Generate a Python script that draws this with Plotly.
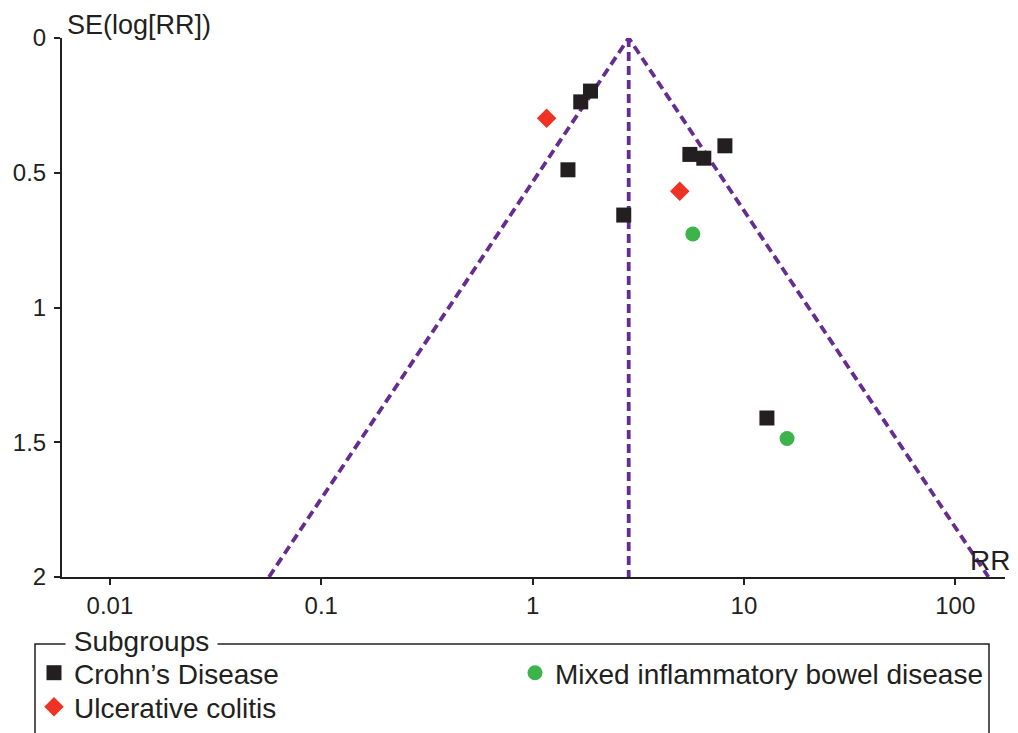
import numpy as np
import plotly.graph_objects as go

# ---- data ----
crohn_rr = [1.69, 1.88, 1.47, 2.70, 5.55, 6.46, 8.13, 12.85]
crohn_se = [0.237, 0.197, 0.489, 0.657, 0.432, 0.446, 0.400, 1.41]
uc_rr = [1.165, 4.97]
uc_se = [0.298, 0.569]
mixed_rr = [5.73, 16.0]
mixed_se = [0.727, 1.486]
pooled_rr = 2.85
se_max = 2.0
x_tickvals = [0.01, 0.1, 1, 10, 100]
x_ticktext = ["0.01", "0.1", "1", "10", "100"]
y_tickvals = [0, 0.5, 1, 1.5, 2]
y_ticktext = ["0", "0.5", "1", "1.5", "2"]

BLACK = "#231f20"
RED = "#ee3224"
GREEN = "#3cb44b"
PURPLE = "#662d91"
FONT = "Liberation Sans, Arial, sans-serif"

# page has an 8px body margin; figure sized so it ends at the window edge
OFF = 8
W, H = 1018 - OFF, 733 - OFF
# plot area in page pixels
PL, PR, PT, PB = 62, 1005, 38, 577
ML, MR, MT, MB = PL - OFF, W - (PR - OFF), PT - OFF, H - (PB - OFF)
pw, ph = W - ML - MR, H - MT - MB


def px2paper_x(px):
    return (px - PL) / pw


def px2paper_y(py):
    return (PB - py) / ph


def cont_x(px):
    return (px - OFF) / W


def cont_y(py):
    return 1 - (py - OFF) / H


fig = go.Figure()

# funnel lines (95% pseudo-confidence limits)
lo = pooled_rr * np.exp(-1.96 * se_max)
hi = pooled_rr * np.exp(1.96 * se_max)
dash_line = dict(color=PURPLE, width=3.8, dash="9px,5px")
fig.add_trace(go.Scatter(x=[lo, pooled_rr, hi], y=[se_max, 0, se_max], mode="lines",
                         line=dash_line, showlegend=False, hoverinfo="skip"))
fig.add_trace(go.Scatter(x=[pooled_rr, pooled_rr], y=[0, se_max], mode="lines",
                         line=dash_line, showlegend=False, hoverinfo="skip"))

fig.add_trace(go.Scatter(x=crohn_rr, y=crohn_se, mode="markers", name="Crohn’s Disease",
                         marker=dict(symbol="square", size=15, color=BLACK), legend="legend"))
fig.add_trace(go.Scatter(x=uc_rr, y=uc_se, mode="markers", name="Ulcerative colitis",
                         marker=dict(symbol="diamond", size=15, color=RED), legend="legend3"))
fig.add_trace(go.Scatter(x=mixed_rr, y=mixed_se, mode="markers", name="Mixed inflammatory bowel disease",
                         marker=dict(symbol="circle", size=15, color=GREEN), legend="legend2"))

xr = [np.log10(0.00593), np.log10(172.0)]
yr = [2, 0]

leg_common = dict(xref="container", yref="container", xanchor="left", yanchor="top",
                  orientation="v", font=dict(size=28, family=FONT, color=BLACK),
                  bgcolor="rgba(0,0,0,0)", tracegroupgap=0)

fig.update_layout(
    width=W, height=H,
    margin=dict(l=ML, r=MR, t=MT, b=MB, autoexpand=False),
    paper_bgcolor="white", plot_bgcolor="white",
    font=dict(family=FONT, color=BLACK, size=23),
    xaxis=dict(type="log", range=xr, tickvals=x_tickvals, ticktext=x_ticktext,
               showgrid=False, zeroline=False, showline=True, linecolor=BLACK, linewidth=2,
               ticks="outside", ticklen=6, tickwidth=1.5, tickcolor=BLACK,
               ticklabelstandoff=0, tickfont=dict(size=24), fixedrange=True, automargin=False),
    yaxis=dict(range=yr, tickvals=y_tickvals, ticktext=y_ticktext,
               showgrid=False, zeroline=False, showline=True, linecolor=BLACK, linewidth=2,
               ticks="outside", ticklen=6, tickwidth=1.5, tickcolor=BLACK,
               ticklabelstandoff=3, tickfont=dict(size=24), fixedrange=True, automargin=False),
    xaxis2=dict(type="log", range=xr, overlaying="x", anchor="y", side="bottom",
                tickvals=x_tickvals, showticklabels=False, showgrid=False, zeroline=False,
                showline=False, ticks="inside", ticklen=6, tickwidth=1.5, tickcolor=BLACK,
                fixedrange=True, automargin=False),
    yaxis2=dict(range=yr, overlaying="y", anchor="x", side="left",
                tickvals=y_tickvals, showticklabels=False, showgrid=False, zeroline=False,
                showline=False, ticks="inside", ticklen=6, tickwidth=1.5, tickcolor=BLACK,
                fixedrange=True, automargin=False),
    legend=dict(leg_common, x=cont_x(34), y=cont_y(648)),
    legend2=dict(leg_common, x=cont_x(515), y=cont_y(648)),
    legend3=dict(leg_common, x=cont_x(34), y=cont_y(682)),
    showlegend=True,
)

# legend frame
fig.add_shape(type="path", xref="paper", yref="paper",
              path=(f"M {px2paper_x(35)} {px2paper_y(760)} L {px2paper_x(35)} {px2paper_y(644)} "
                    f"L {px2paper_x(989)} {px2paper_y(644)} L {px2paper_x(989)} {px2paper_y(760)}"),
              line=dict(color=BLACK, width=1.5))

fig.add_annotation(x=px2paper_x(65), y=px2paper_y(641), xref="paper", yref="paper",
                   text="\u00a0Subgroups\u00a0", showarrow=False, xanchor="left", yanchor="middle",
                   bgcolor="white", borderpad=0, font=dict(size=28, color=BLACK, family=FONT))

# axis titles
fig.add_annotation(x=px2paper_x(65), y=px2paper_y(25), xref="paper", yref="paper",
                   text="SE(log[RR])", showarrow=False, xanchor="left", yanchor="middle",
                   font=dict(size=27, color=BLACK, family=FONT))
fig.add_annotation(x=px2paper_x(1012), y=px2paper_y(560), xref="paper", yref="paper",
                   text="RR", showarrow=False, xanchor="right", yanchor="middle",
                   font=dict(size=28, color=BLACK, family=FONT))

fig.write_html("out.html")
